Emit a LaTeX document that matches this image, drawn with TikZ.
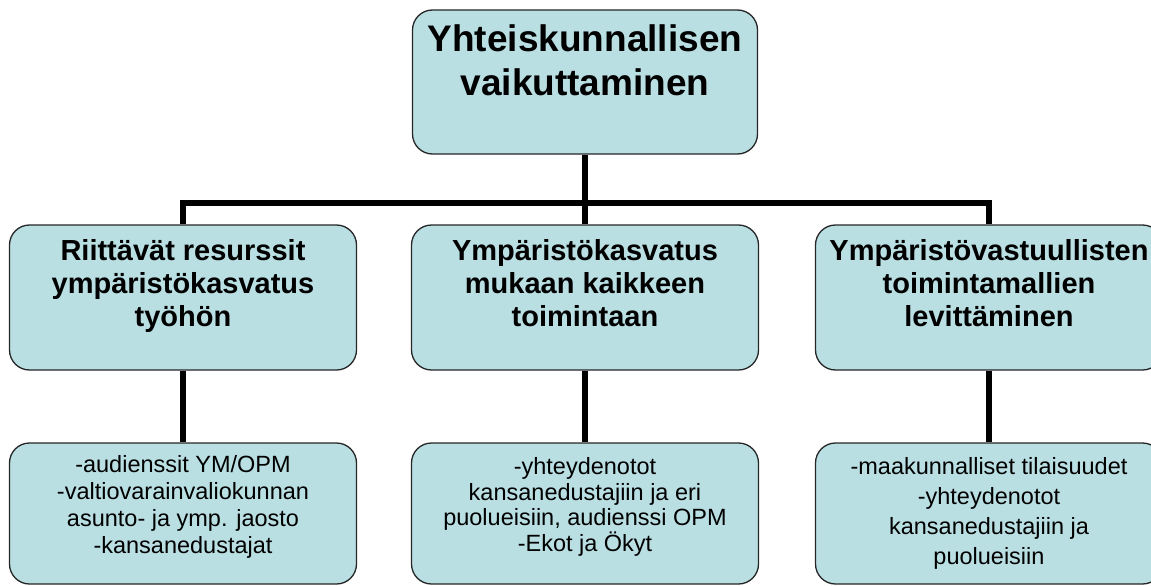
\documentclass[tikz,border=0pt]{standalone}
\usepackage{fontspec}
\setmainfont{Liberation Sans}
\definecolor{boxfill}{RGB}{185,223,227}
\tikzset{
  box/.style={draw=black!85, line width=1.3pt, fill=boxfill, rounded corners=20pt,
    minimum width=347pt, minimum height=145pt, inner sep=0pt},
  conn/.style={line width=5.5pt, draw=black},
  ttltext/.style={inner sep=0pt, align=center, anchor=north,
    font=\fontsize{37}{44}\selectfont\bfseries},
  midtext/.style={inner sep=0pt, align=center, anchor=north,
    font=\fontsize{29}{33}\selectfont\bfseries},
  lowtext/.style={inner sep=0pt, align=center, anchor=north,
    font=\fontsize{23.5}{#1}\selectfont},
}
\begin{document}
\begin{tikzpicture}[x=1pt,y=-1pt]
\useasboundingbox (0,0) rectangle (1151,586);
\clip (0,0) rectangle (1151,586);
\coordinate (bar) at (0,203);
% boxes
\node[box, minimum width=345pt, minimum height=144pt] (top) at (585,82) {};
\node[box] (b1) at (183,297.5) {};
\node[box] (b2) at (585,297.5) {};
\node[box] (b3) at (989,297.5) {};
\node[box, minimum height=141pt] (c1) at (183,513.5) {};
\node[box, minimum height=141pt] (c2) at (585,513.5) {};
\node[box, minimum height=141pt] (c3) at (989,513.5) {};
% connectors
\draw[conn] (top.south) -- (b2.north);
\draw[conn] (b1.north) -- (b1.north |- bar) -- (b3.north |- bar) -- (b3.north);
\draw[conn] (b1.south) -- (c1.north);
\draw[conn] (b2.south) -- (c2.north);
\draw[conn] (b3.south) -- (c3.north);
% texts
\node[ttltext] (ttop) at ([yshift=-15pt]top.north) {Yhteiskunnallisen\\vaikuttaminen};
\node[midtext] (tb1) at ([yshift=-15pt]b1.north) {Riittävät resurssit\\ympäristökasvatus\\työhön};
\node[midtext] (tb2) at ([yshift=-15pt]b2.north) {Ympäristökasvatus\\mukaan kaikkeen\\toimintaan};
\node[midtext] (tb3) at ([yshift=-15pt]b3.north) {Ympäristövastuullisten\\toimintamallien\\levittäminen};
\node[lowtext=27pt] (tc1) at ([yshift=-13pt]c1.north) {-audienssit YM/OPM\\-valtiovarainvaliokunnan\\asunto- ja ymp. jaosto\\-kansanedustajat};
\node[lowtext=25.7pt] (tc2) at ([yshift=-15pt]c2.north) {-yhteydenotot\\kansanedustajiin ja eri\\puolueisiin, audienssi OPM\\-Ekot ja Ökyt};
\node[lowtext=30pt] (tc3) at ([yshift=-15pt]c3.north) {-maakunnalliset tilaisuudet\\-yhteydenotot\\kansanedustajiin ja\\puolueisiin};
\end{tikzpicture}
\end{document}
